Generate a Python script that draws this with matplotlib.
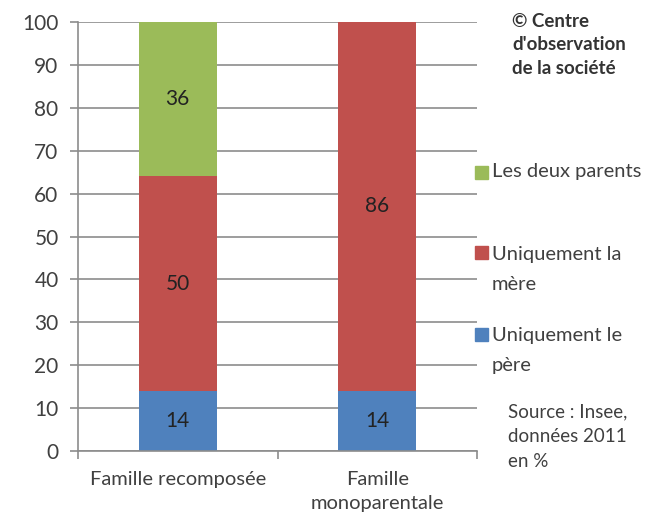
import numpy as np
import matplotlib.pyplot as plt

plt.rcParams['font.family'] = ['Lato', 'DejaVu Sans']

categories = ["Famille recomposée", "Famille\nmonoparentale"]
series_names = ["Uniquement le\npère", "Uniquement la\nmère", "Les deux parents"]
pere = [14, 14]
mere = [50, 86]
deux = [36, 0]
colors = ["#4F81BD", "#C0504D", "#9BBB59"]
yticks = list(range(0, 101, 10))

text_col = "#404040"

fig = plt.figure(figsize=(6.59, 5.17), dpi=100)
ax = fig.add_axes([78 / 659, 1 - 451 / 517, 399 / 659, 429 / 517])

x = np.arange(len(categories))
w = 0.39
bottom = np.zeros(len(categories))
for vals, col in zip([pere, mere, deux], colors):
    vals = np.array(vals)
    ax.bar(x, vals, w, bottom=bottom, color=col, zorder=2)
    for xi, v, b in zip(x, vals, bottom):
        if v > 0:
            ax.text(xi, b + v / 2, str(v), ha="center", va="center",
                    fontsize=15, color="#222222", zorder=3)
    bottom += vals

ax.set_xlim(-0.5, 1.5)
ax.set_ylim(0, 100)
ax.set_yticks(yticks)
ax.set_yticklabels([str(t) for t in yticks], fontsize=15, color=text_col)
ax.yaxis.grid(True, color="#8c8c8c", linewidth=1.2, zorder=0)
ax.set_axisbelow(True)

ax.set_xticks([-0.5, 0.5, 1.5], minor=False)
ax.set_xticklabels([])
ax.set_xticks(x, minor=True)
ax.set_xticklabels(categories, minor=True, fontsize=14.5, color=text_col,
                   linespacing=1.5)
ax.tick_params(axis="x", which="minor", length=0, pad=14.5)
ax.tick_params(axis="x", which="major", length=6, color="#8c8c8c", width=1.2)
ax.tick_params(axis="y", length=6, color="#8c8c8c", width=1.2, pad=8)

for s in ["top", "right"]:
    ax.spines[s].set_visible(False)
for s in ["left", "bottom"]:
    ax.spines[s].set_color("#8c8c8c")
    ax.spines[s].set_linewidth(1.2)

# legend (manual, Excel style)
legend_y = [1 - 172 / 517, 1 - 253 / 517, 1 - 334 / 517]
order = [2, 1, 0]
for i, yy in zip(order, legend_y):
    fig.patches.append(plt.Rectangle((475 / 659, yy - 6.5 / 517), 13 / 659, 13 / 517,
                                     transform=fig.transFigure, color=colors[i]))
    if "\n" in series_names[i]:
        fig.text(492 / 659, yy + 7 / 517, series_names[i], fontsize=14.5,
                 color=text_col, va="top", linespacing=1.9)
    else:
        fig.text(492 / 659, yy, series_names[i], fontsize=14.5, color=text_col,
                 va="center")

fig.text(512 / 659, 1 - 13 / 517, "© Centre\nd'observation\nde la société",
         fontsize=13.5, fontweight="bold", color="#333333", va="top", linespacing=1.45)
fig.text(508 / 659, 1 - 403 / 517, "Source : Insee,\ndonnées 2011\nen %",
         fontsize=13.5, color=text_col, va="top", linespacing=1.58)

fig.savefig("out.png", dpi=100)
